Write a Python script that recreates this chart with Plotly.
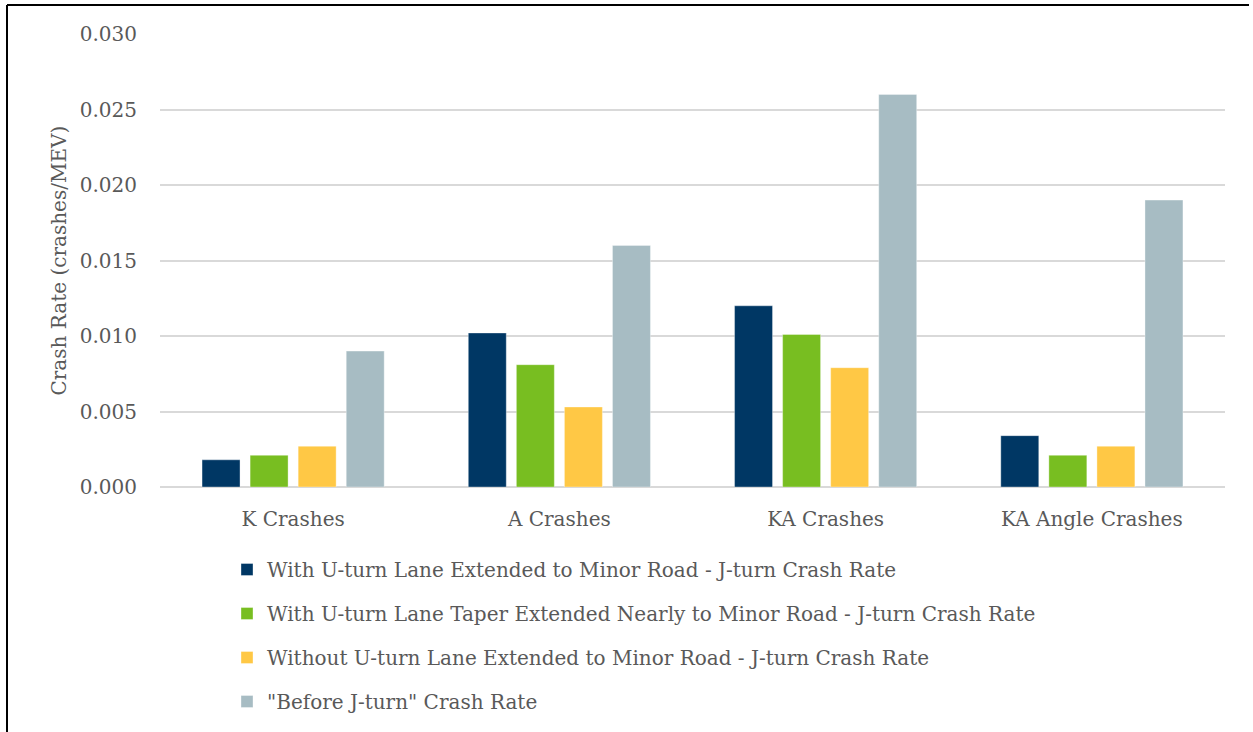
import plotly.graph_objects as go

categories = ["K Crashes", "A Crashes", "KA Crashes", "KA Angle Crashes"]

series_names = [
    "With U-turn Lane Extended to Minor Road - J-turn Crash Rate",
    "With U-turn Lane Taper Extended Nearly to Minor Road - J-turn Crash Rate",
    "Without U-turn Lane Extended to Minor Road - J-turn Crash Rate",
    "\"Before J-turn\" Crash Rate",
]

with_uturn_extended = [0.0018, 0.0102, 0.0120, 0.0034]
with_taper_extended = [0.0021, 0.0081, 0.0101, 0.0021]
without_uturn_extended = [0.0027, 0.0053, 0.0079, 0.0027]
before_jturn = [0.0090, 0.0160, 0.0260, 0.0190]

y_tick_values = [0.000, 0.005, 0.010, 0.015, 0.020, 0.025, 0.030]
y_tick_labels = ["0.000", "0.005", "0.010", "0.015", "0.020", "0.025", "0.030"]
y_title = "Crash Rate (crashes/MEV)"

colors = ["#003764", "#78BE21", "#FFC845", "#A7BCC3"]
series_values = [with_uturn_extended, with_taper_extended, without_uturn_extended, before_jturn]

FONT = "DejaVu Serif"
TEXT = "#595959"
FS = 20

fig = go.Figure()
for i, (name, vals, col) in enumerate(zip(series_names, series_values, colors)):
    fig.add_trace(go.Bar(
        x=categories, y=vals, name=name,
        marker=dict(color=col, line=dict(color="rgba(255,255,255,0.35)", width=1)),
        legendgroup=f"g{i}",
    ))

W, H = 1253, 732
L, R, T, B = 160, 28, 34, 245
pw, ph = W - L - R, H - T - B

def px_to_paper_x(px):
    return (px - L) / pw

def px_to_paper_y(py):
    return (H - B - py) / ph

fig.update_layout(
    width=W, height=H,
    margin=dict(l=L, r=R, t=T, b=B, autoexpand=False),
    paper_bgcolor="white", plot_bgcolor="white",
    font=dict(family=FONT, color=TEXT, size=FS),
    barmode="group", bargap=0.278, bargroupgap=0.21,
    showlegend=True,
    legend=dict(
        xref="container", yref="container",
        x=227 / W, xanchor="left",
        y=1 - 550 / H, yanchor="top",
        traceorder="grouped", tracegroupgap=15,
        font=dict(family=FONT, color=TEXT, size=FS),
        bgcolor="rgba(0,0,0,0)",
    ),
    xaxis=dict(
        showgrid=False, showline=False, zeroline=False,
        ticks="outside", ticklen=14, tickcolor="rgba(0,0,0,0)",
        tickfont=dict(family=FONT, color=TEXT, size=FS),
    ),
    yaxis=dict(
        range=[0, 0.030], tickvals=y_tick_values, ticktext=y_tick_labels,
        showgrid=True, gridcolor="#d9d9d9", gridwidth=1.5,
        zeroline=True, zerolinecolor="#d9d9d9", zerolinewidth=1.5,
        showline=False,
        ticks="outside", ticklen=18, tickcolor="rgba(0,0,0,0)",
        tickfont=dict(family=FONT, color=TEXT, size=FS),
    ),
    annotations=[
        dict(text=y_title, xref="paper", yref="paper",
             x=px_to_paper_x(58), y=0.5, xanchor="center", yanchor="middle",
             textangle=-90, showarrow=False,
             font=dict(family=FONT, color=TEXT, size=FS)),
    ],
    shapes=[
        dict(type="line", xref="paper", yref="paper",
             x0=px_to_paper_x(7), x1=px_to_paper_x(1249),
             y0=px_to_paper_y(5), y1=px_to_paper_y(5),
             line=dict(color="black", width=2)),
        dict(type="line", xref="paper", yref="paper",
             x0=px_to_paper_x(7), x1=px_to_paper_x(7),
             y0=px_to_paper_y(5), y1=px_to_paper_y(H + 2),
             line=dict(color="black", width=2)),
    ],
)

fig.write_html("out.html")
